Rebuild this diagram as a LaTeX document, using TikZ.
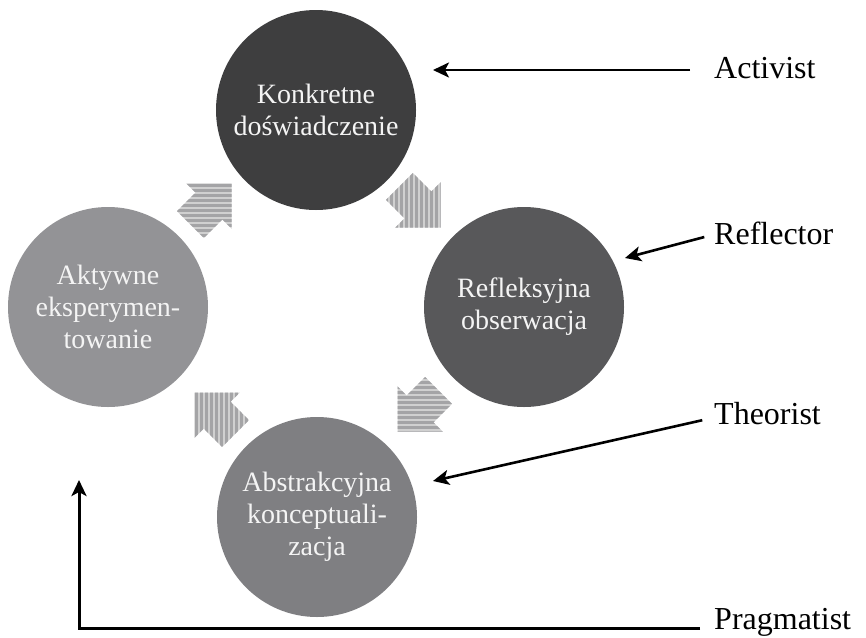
\documentclass[tikz,border=0pt]{standalone}
\usepackage{fontspec}
\setmainfont{Liberation Serif}
\usetikzlibrary{arrows.meta}

\definecolor{cTop}{HTML}{3E3E3F}
\definecolor{cRight}{HTML}{58585A}
\definecolor{cBottom}{HTML}{7F7F82}
\definecolor{cLeft}{HTML}{939396}
\definecolor{stripeLight}{HTML}{D0D0D0}
\definecolor{stripeDark}{HTML}{A4A4A6}
\definecolor{circleText}{HTML}{F4F4F4}

% block arrow: #1,#2 centre, #3 rotation, #4 = h (horizontal stripes) or v (vertical stripes)
\newcommand\kolbarrow[4]{%
  \begin{scope}
    \clip[shift={(#1,#2)}, rotate=#3]
      (-29,-19) -- (-3,-19) -- (-3,-32) -- (29,0) -- (-3,32) -- (-3,19) -- (-29,19) -- cycle;
    \fill[stripeLight] (#1-50,#2-50) rectangle (#1+50,#2+50);
    \if#4h
      \foreach \k in {-10,...,10}
        \fill[stripeDark] (#1-50,#2+\k*5) rectangle ++(100,2.6);
    \else
      \foreach \k in {-10,...,10}
        \fill[stripeDark] (#1+\k*5,#2-50) rectangle ++(2.6,100);
    \fi
  \end{scope}}

\tikzset{
  stage/.style={circle, minimum size=200pt, inner sep=0pt, align=center,
    text=circleText, font=\fontsize{28}{32}\selectfont},
  role/.style={anchor=west, inner sep=2pt, font=\fontsize{32}{36}\selectfont},
  pointer/.style={line width=2.6pt, -{Stealth[length=16pt,width=15pt,inset=4pt]}},
}

\begin{document}
\begin{tikzpicture}[x=1pt,y=-1pt]
  \useasboundingbox[fill=white] (0,0) rectangle (866,637);

  % four stages of the cycle
  \node[stage, fill=cTop]    (kd) at (316,110) {Konkretne\\doświadczenie};
  \node[stage, fill=cRight]  (ro) at (524,307) {Refleksyjna\\obserwacja};
  \node[stage, fill=cBottom] (ak) at (317,517) {Abstrakcyjna\\konceptuali-\\zacja};
  \node[stage, fill=cLeft]   (ae) at (108,307) {Aktywne\\eksperymen-\\towanie};

  % striped block arrows between the stages
  \kolbarrow{211}{204}{45}{h}
  \kolbarrow{420}{207}{-45}{v}
  \kolbarrow{418}{411}{-135}{h}
  \kolbarrow{215}{413}{135}{v}

  % learning styles
  \node[role] (act)  at (712,68)  {Activist};
  \node[role] (refl) at (712,233) {Reflector};
  \node[role] (theo) at (712,414) {Theorist};
  \node[role] (prag) at (712,622) {Pragmatist};

  \coordinate (acttip)  at (433,70);
  \coordinate (refltip) at (625,258);
  \coordinate (theotip) at (433,481);
  \coordinate (pragtip) at (79,480);

  \draw[pointer, shorten <=22pt] ([yshift=-2pt]act.west) -- (acttip);
  \draw[pointer, shorten <=8pt]  ([yshift=-2pt]refl.west) -- (refltip);
  \draw[pointer, shorten <=10pt] ([yshift=-4pt]theo.west) -- (theotip);
  \draw[pointer, line width=3pt, shorten <=12pt] ([yshift=-6pt]prag.west) -| (pragtip);
\end{tikzpicture}
\end{document}
